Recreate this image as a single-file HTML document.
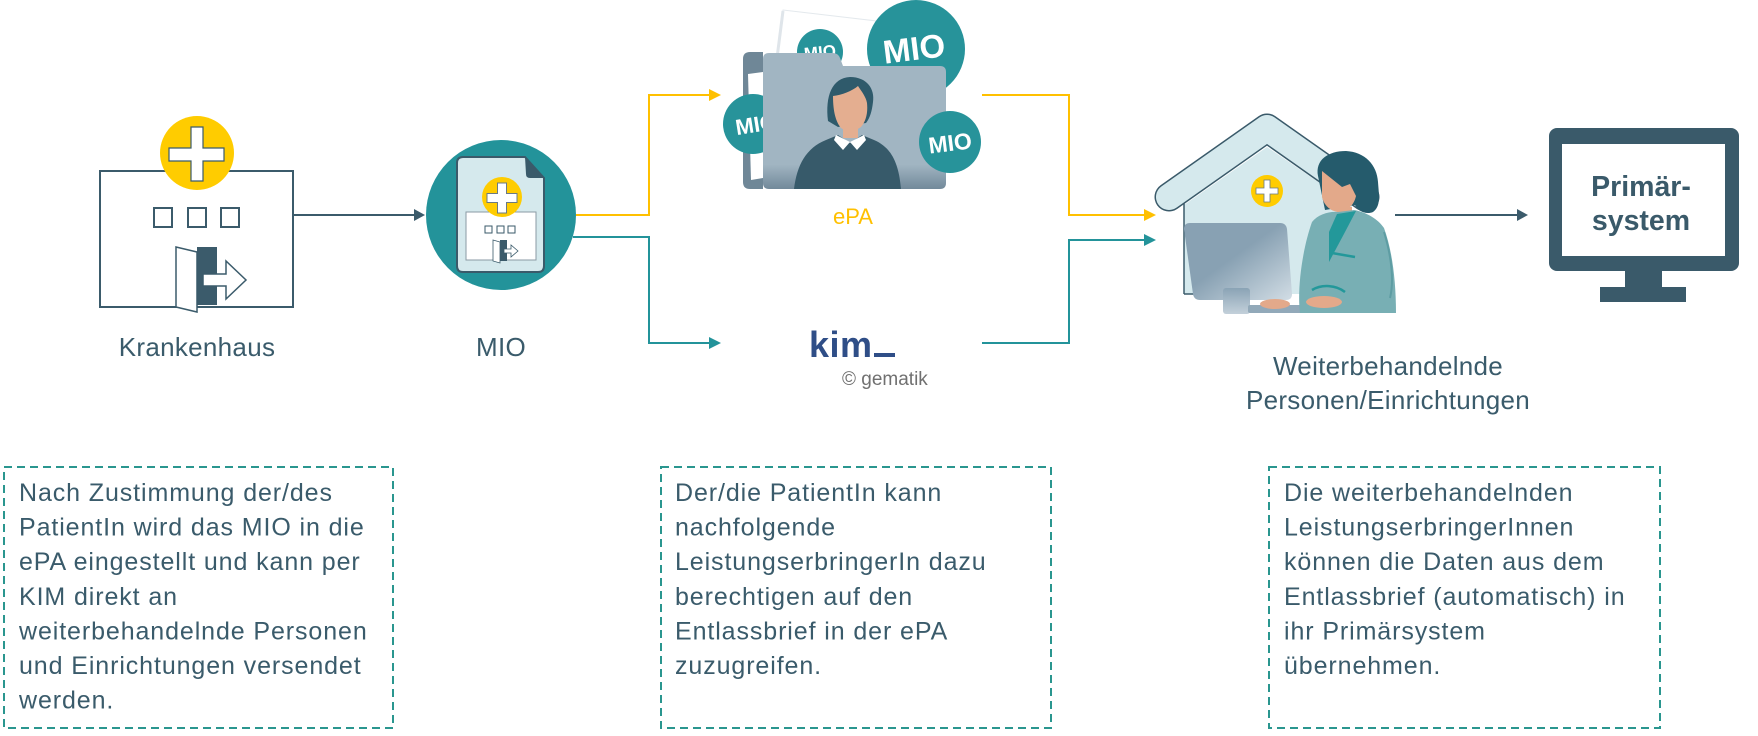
<!DOCTYPE html>
<html>
<head>
<meta charset="utf-8">
<style>
  html,body{margin:0;padding:0;background:#fff;}
  body{width:1758px;height:736px;overflow:hidden;}
  svg{display:block;}
  text{font-family:"Liberation Sans","DejaVu Sans",sans-serif;}
  .lbl{font-size:26px;fill:#3a5b6b;letter-spacing:0.3px;}
  .body{font-size:25px;fill:#3a5b6b;letter-spacing:0.9px;}
  .mio{font-weight:bold;fill:#fff;}
</style>
</head>
<body>
<svg width="1758" height="736" viewBox="0 0 1758 736" xmlns="http://www.w3.org/2000/svg">
  <defs>
    <linearGradient id="fold" x1="0" y1="0" x2="0" y2="1">
      <stop offset="0.82" stop-color="#a1b5c2"/>
      <stop offset="1" stop-color="#72899a"/>
    </linearGradient>
    <linearGradient id="mon" x1="0" y1="0" x2="1" y2="1">
      <stop offset="0.45" stop-color="#88a1b3"/>
      <stop offset="1" stop-color="#d2dde5"/>
    </linearGradient>
    <linearGradient id="stand" x1="0" y1="0" x2="0" y2="1">
      <stop offset="0" stop-color="#8aa3b5"/>
      <stop offset="1" stop-color="#c3d0da"/>
    </linearGradient>
  </defs>

  <!-- ============ Krankenhaus icon ============ -->
  <rect x="100" y="171" width="193" height="136" fill="#fff" stroke="#3b5b6b" stroke-width="2"/>
  <circle cx="197" cy="153" r="37" fill="#ffcc00"/>
  <path d="M191,127 H203 V148 H224 V161 H203 V181 H191 V161 H169 V148 H191 Z" fill="#fff" stroke="#3b5b6b" stroke-width="1.2"/>
  <rect x="154" y="208" width="18" height="19" fill="#fff" stroke="#3b5b6b" stroke-width="2"/>
  <rect x="188" y="208" width="18" height="19" fill="#fff" stroke="#3b5b6b" stroke-width="2"/>
  <rect x="221" y="208" width="18" height="19" fill="#fff" stroke="#3b5b6b" stroke-width="2"/>
  <rect x="197" y="247" width="20" height="58" fill="#3b5b6b"/>
  <polygon points="176,247 197,252 197,312 176,307" fill="#fff" stroke="#3b5b6b" stroke-width="1.5"/>
  <path d="M203,274 H226 V261 L246,280 L226,299 V286 H203 Z" fill="#fff" stroke="#3b5b6b" stroke-width="1.5"/>
  <text class="lbl" x="197" y="356" text-anchor="middle">Krankenhaus</text>

  <!-- connector Krankenhaus -> MIO -->
  <line x1="294" y1="215" x2="416" y2="215" stroke="#3b5b6b" stroke-width="2"/>
  <polygon points="414,209 425,215 414,221" fill="#3b5b6b"/>

  <!-- ============ MIO icon ============ -->
  <circle cx="501" cy="215" r="75" fill="#23939a"/>
  <path d="M463,157 L525,157 L544,178 L544,266 Q544,272 538,272 L463,272 Q457,272 457,266 L457,163 Q457,157 463,157 Z" fill="#d5e9ed" stroke="#3a5a6a" stroke-width="2"/>
  <path d="M525,157 L544,178 L530,178 Q526,178 526,174 Z" fill="#3a5a6a"/>
  <rect x="466" y="212" width="70" height="48" fill="#fff" stroke="#8a9aa4" stroke-width="1"/>
  <rect x="485" y="226" width="7" height="7" fill="#fff" stroke="#3a5a6a" stroke-width="1"/>
  <rect x="497" y="226" width="7" height="7" fill="#fff" stroke="#3a5a6a" stroke-width="1"/>
  <rect x="508" y="226" width="7" height="7" fill="#fff" stroke="#3a5a6a" stroke-width="1"/>
  <rect x="500" y="240" width="7" height="21" fill="#3a5a6a"/>
  <polygon points="493,240 500,242 500,263 493,261" fill="#fff" stroke="#3a5a6a" stroke-width="0.8"/>
  <path d="M504,249 H511 V245 L518,251 L511,257 V253 H504 Z" fill="#fff" stroke="#3a5a6a" stroke-width="0.8"/>
  <circle cx="502" cy="197" r="20" fill="#ffcc00"/>
  <path d="M497.5,183 H506.5 V193.5 H517 V202.5 H506.5 V213 H497.5 V202.5 H487 V193.5 H497.5 Z" fill="#fff" stroke="#6a7a84" stroke-width="1"/>
  <text class="lbl" x="501" y="356" text-anchor="middle">MIO</text>

  <!-- connectors MIO -> ePA / KIM -->
  <polyline points="576,215 649,215 649,95 711,95" fill="none" stroke="#ffc000" stroke-width="2"/>
  <polygon points="709,89 721,95 709,101" fill="#ffc000"/>
  <polyline points="573,237 649,237 649,343 711,343" fill="none" stroke="#23939a" stroke-width="2"/>
  <polygon points="709,337 721,343 709,349" fill="#23939a"/>

  <!-- ============ ePA illustration ============ -->
  <path d="M783,10 L885,22 L880,70 L776,60 Z" fill="#fff" stroke="#e4e9ed" stroke-width="1"/>
  <line x1="783" y1="11" x2="777" y2="58" stroke="#dfe5ea" stroke-width="3"/>
  <path d="M750,52 L763,52 L763,189 L750,189 Q743,189 743,182 L743,59 Q743,52 750,52 Z" fill="#6f8797"/>
  <polygon points="748,74 763,72 763,178 751,180" fill="#fff"/>
  <circle cx="820" cy="52" r="23" fill="#27939a"/>
  <text class="mio" x="820" y="58" font-size="17" text-anchor="middle" transform="rotate(-6 820 52)">MIO</text>
  <circle cx="916" cy="49" r="49" fill="#27939a"/>
  <text class="mio" x="914" y="60" font-size="33" text-anchor="middle" transform="rotate(-7 914 48)">MIO</text>
  <circle cx="753" cy="124" r="30" fill="#27939a"/>
  <text class="mio" x="756" y="132" font-size="22" text-anchor="middle" transform="rotate(-9 756 124)">MIO</text>
  <!-- folder -->
  <path d="M769,53 L833,53 Q838,53 840,58 L843,66 L940,66 Q946,66 946,72 L946,183 Q946,189 940,189 L769,189 Q763,189 763,183 L763,59 Q763,53 769,53 Z" fill="url(#fold)"/>
  <!-- person in folder -->
  <path d="M828,121 C825,96 832,78 850,77 C867,77 875,89 873,102 C872,111 870,118 866,123 L838,127 Z" fill="#2f5a6b"/>
  <path d="M833,96 C842,95 852,91 858,86 C862,92 866,97 867,103 C868,113 866,121 861,127 C856,131 846,132 841,128 C836,122 833,112 833,96 Z" fill="#e4ae90"/>
  <rect x="843" y="122" width="15" height="16" fill="#e4ae90"/>
  <path d="M794,189 C797,165 806,148 826,140 L838,135 L850,143 L862,135 L874,140 C893,148 899,166 901,189 Z" fill="#375a6a"/>
  <polygon points="836,135 850,142 843,150 834,140" fill="#fff"/>
  <polygon points="864,135 850,142 857,150 866,140" fill="#fff"/>
  <circle cx="950" cy="142" r="31" fill="#27939a"/>
  <text class="mio" x="950" y="151" font-size="23" text-anchor="middle" transform="rotate(-7 950 142)">MIO</text>
  <text x="853" y="224" font-size="22" fill="#ffc000" text-anchor="middle">ePA</text>

  <!-- ============ KIM logo ============ -->
  <text x="809" y="357" font-size="36" font-weight="bold" fill="#2f4e87" letter-spacing="0.5">kim</text>
  <rect x="874" y="353" width="21" height="4" fill="#2f4e87"/>
  <text x="842" y="385" font-size="19" fill="#707070">© gematik</text>

  <!-- connectors ePA / KIM -> Weiterbehandelnde -->
  <polyline points="982,95 1069,95 1069,215 1146,215" fill="none" stroke="#ffc000" stroke-width="2"/>
  <polygon points="1144,209 1156,215 1144,221" fill="#ffc000"/>
  <polyline points="982,343 1069,343 1069,240 1146,240" fill="none" stroke="#23939a" stroke-width="2"/>
  <polygon points="1144,234 1156,240 1144,246" fill="#23939a"/>

  <!-- ============ House + nurse ============ -->
  <path d="M1184,205 L1267,147 L1352,205 L1352,294 L1184,294 Z" fill="#d5e9ed"/>
  <line x1="1184" y1="200" x2="1184" y2="294" stroke="#3a5a6a" stroke-width="1.5"/>
  <line x1="1184" y1="294" x2="1200" y2="294" stroke="#3a5a6a" stroke-width="1.5"/>
  <polyline points="1169,197 1267,128 1365,197" fill="none" stroke="#3a5a6a" stroke-width="29" stroke-linecap="round" stroke-linejoin="round"/>
  <polyline points="1169,197 1267,128 1365,197" fill="none" stroke="#d5e9ed" stroke-width="26" stroke-linecap="round" stroke-linejoin="round"/>
  <circle cx="1267" cy="191" r="16" fill="#ffcc00"/>
  <path d="M1264,180 H1270 V188 H1278 V194 H1270 V202 H1264 V194 H1256 V188 H1264 Z" fill="#fff" stroke="#6a7a84" stroke-width="0.8"/>
  <!-- monitor -->
  <path d="M1190,223 L1280,223 Q1286,223 1287,229 L1292,294 Q1292,300 1286,300 L1200,300 Q1194,300 1193,294 L1184,229 Q1184,223 1190,223 Z" fill="url(#mon)"/>
  <rect x="1223" y="288" width="27" height="26" rx="3" fill="url(#stand)"/>
  <rect x="1248" y="305" width="82" height="8" rx="2" fill="#92a9b9"/>
  <!-- nurse -->
  <path d="M1318,176 C1315,160 1328,151 1346,151 C1365,152 1377,165 1378,182 C1379,196 1381,206 1373,212 C1366,215 1358,211 1355,205 L1325,210 Z" fill="#255b6c"/>
  <path d="M1322,171 L1342,187 L1350,184 L1356,196 C1354,205 1348,211 1338,212 C1330,211 1324,205 1322,197 Z" fill="#e3a98a"/>
  <rect x="1337" y="207" width="15" height="12" fill="#e3a98a"/>
  <path d="M1312,222 C1318,214 1330,211 1338,212 L1354,210 C1366,212 1378,219 1384,228 C1392,250 1396,280 1396,313 L1300,313 C1297,290 1302,250 1312,222 Z" fill="#78afb4"/>
  <path d="M1337,214 L1356,211 L1345,232 L1329,262 L1329,232 Z" fill="#23989a"/>
  <line x1="1332" y1="253" x2="1355" y2="257" stroke="#23989a" stroke-width="2.5"/>
  <path d="M1384,232 C1392,258 1394,282 1390,298" fill="none" stroke="#5e9da3" stroke-width="2"/>
  <path d="M1312,290 C1322,284 1336,285 1345,292" fill="none" stroke="#23989a" stroke-width="2.5"/>
  <ellipse cx="1275" cy="304" rx="15" ry="5" fill="#e3a98a"/>
  <ellipse cx="1324" cy="302" rx="18" ry="6" fill="#e3a98a"/>
  <text class="lbl" x="1388" y="375" text-anchor="middle">Weiterbehandelnde</text>
  <text class="lbl" x="1388" y="409" text-anchor="middle">Personen/Einrichtungen</text>

  <!-- connector -> Primärsystem -->
  <line x1="1395" y1="215" x2="1519" y2="215" stroke="#3b5b6b" stroke-width="2"/>
  <polygon points="1517,209 1528,215 1517,221" fill="#3b5b6b"/>

  <!-- ============ Primärsystem monitor ============ -->
  <rect x="1549" y="128" width="190" height="143" rx="8" fill="#3a5a6a"/>
  <rect x="1562" y="144" width="163" height="112" fill="#fff"/>
  <rect x="1625" y="270" width="37" height="18" fill="#3a5a6a"/>
  <rect x="1600" y="287" width="86" height="15" fill="#3a5a6a"/>
  <text x="1641" y="196" font-size="28.5" font-weight="bold" fill="#3a5a6a" text-anchor="middle">Primär-</text>
  <text x="1641" y="230" font-size="28.5" font-weight="bold" fill="#3a5a6a" text-anchor="middle">system</text>

  <!-- ============ Text boxes ============ -->
  <rect x="4" y="467" width="389" height="261" fill="none" stroke="#2a968f" stroke-width="2" stroke-dasharray="8 5"/>
  <rect x="661" y="467" width="390" height="261" fill="none" stroke="#2a968f" stroke-width="2" stroke-dasharray="8 5"/>
  <rect x="1269" y="467" width="391" height="261" fill="none" stroke="#2a968f" stroke-width="2" stroke-dasharray="8 5"/>

  <text class="body" x="19" y="501">Nach Zustimmung der/des</text>
  <text class="body" x="19" y="535.6">PatientIn wird das MIO in die</text>
  <text class="body" x="19" y="570.2">ePA eingestellt und kann per</text>
  <text class="body" x="19" y="604.8">KIM direkt an</text>
  <text class="body" x="19" y="639.4">weiterbehandelnde Personen</text>
  <text class="body" x="19" y="674">und Einrichtungen versendet</text>
  <text class="body" x="19" y="708.6">werden.</text>

  <text class="body" x="675" y="501">Der/die PatientIn kann</text>
  <text class="body" x="675" y="535.6">nachfolgende</text>
  <text class="body" x="675" y="570.2">LeistungserbringerIn dazu</text>
  <text class="body" x="675" y="604.8">berechtigen auf den</text>
  <text class="body" x="675" y="639.4">Entlassbrief in der ePA</text>
  <text class="body" x="675" y="674">zuzugreifen.</text>

  <text class="body" x="1284" y="501">Die weiterbehandelnden</text>
  <text class="body" x="1284" y="535.6">LeistungserbringerInnen</text>
  <text class="body" x="1284" y="570.2">können die Daten aus dem</text>
  <text class="body" x="1284" y="604.8">Entlassbrief (automatisch) in</text>
  <text class="body" x="1284" y="639.4">ihr Primärsystem</text>
  <text class="body" x="1284" y="674">übernehmen.</text>
</svg>
</body>
</html>
